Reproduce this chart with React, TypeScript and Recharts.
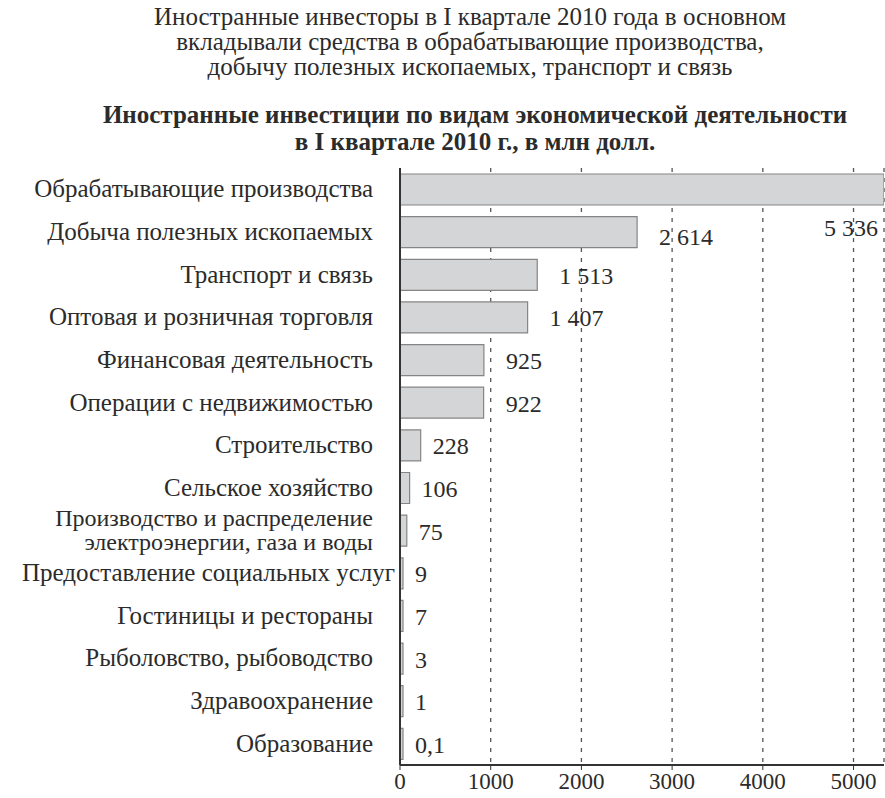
import { BarChart, Bar, XAxis, YAxis, CartesianGrid, LabelList } from 'recharts'

const categories = [
  'Обрабатывающие производства',
  'Добыча полезных ископаемых',
  'Транспорт и связь',
  'Оптовая и розничная торговля',
  'Финансовая деятельность',
  'Операции с недвижимостью',
  'Строительство',
  'Сельское хозяйство',
  'Производство и распределение\nэлектроэнергии, газа и воды',
  'Предоставление социальных услуг',
  'Гостиницы и рестораны',
  'Рыболовство, рыбоводство',
  'Здравоохранение',
  'Образование',
]
const values = [5336, 2614, 1513, 1407, 925, 922, 228, 106, 75, 9, 7, 3, 1, 0.1]
const xTicks = [0, 1000, 2000, 3000, 4000, 5000]

const subtitleLines = [
  'Иностранные инвесторы в I квартале 2010 года в основном',
  'вкладывали средства в обрабатывающие производства,',
  'добычу полезных ископаемых, транспорт и связь',
]
const titleLines = [
  'Иностранные инвестиции по видам экономической деятельности',
  'в I квартале 2010 г., в млн долл.',
]

const data = categories.map((name, i) => ({ name, value: values[i] }))

const FONT = '"Liberation Serif", "DejaVu Serif", serif'
const INK = '#2b2b2b'

function formatValue(v: number): string {
  if (v < 1) return String(v).replace('.', ',')
  return String(v).replace(/\B(?=(\d{3})+(?!\d))/g, ' ')
}

function CategoryTick({ x, y, payload, index }: any) {
  const lines: string[] = String(payload.value).split('\n')
  const multi = lines.length > 1
  const lh = 24
  // the long one sits closer to the axis, like in the source
  const tx = index === 9 ? x + 22 : x
  return (
    <text x={tx} y={y} textAnchor="end" fontFamily={FONT} fontSize={multi ? 24 : 25} fill={INK}>
      {lines.map((l, i) => (
        <tspan key={i} x={tx} dy={i === 0 ? -((lines.length - 1) * lh) / 2 + 8 : lh}>
          {l}
        </tspan>
      ))}
    </text>
  )
}

function ValueLabel({ x, y, width, height, value, index }: any) {
  if (index === 0) {
    return (
      <text x={x + width - 6} y={y + height + 31} textAnchor="end" fontFamily={FONT} fontSize={24} fill={INK}>
        {formatValue(value)}
      </text>
    )
  }
  const gap = value > 500 ? 22 : 12
  const dy = index === 1 ? 13 : 9
  return (
    <text x={x + width + gap} y={y + height / 2 + dy} textAnchor="start" fontFamily={FONT} fontSize={24} fill={INK}>
      {formatValue(value)}
    </text>
  )
}

export default function App() {
  return (
    <div style={{ position: 'absolute', left: 0, top: 0, width: 885, height: 798, background: '#fff', fontFamily: FONT, color: INK }}>
      <div style={{ position: 'absolute', left: 0, top: 4, width: 940, textAlign: 'center', fontSize: 25, lineHeight: '25px' }}>
        {subtitleLines.map((l, i) => <div key={i}>{l}</div>)}
      </div>
      <div style={{ position: 'absolute', left: 0, top: 101, width: 950, textAlign: 'center', fontSize: 25, lineHeight: '27px', fontWeight: 'bold' }}>
        {titleLines.map((l, i) => <div key={i}>{l}</div>)}
      </div>
      <div style={{ position: 'absolute', left: 0, top: 0 }}>
        <BarChart
          width={885}
          height={798}
          data={data}
          layout="vertical"
          margin={{ top: 168, right: 1, bottom: 3, left: 0 }}
        >
          <CartesianGrid horizontal={false} stroke="#555" strokeDasharray="4 6" strokeWidth={1.3} />
          <XAxis
            type="number"
            domain={[0, 5336]}
            ticks={xTicks}
            allowDataOverflow
            height={30}
            axisLine={{ stroke: '#333', strokeWidth: 2 }}
            tickLine={{ stroke: '#333' }}
            tickSize={5}
            tickMargin={1}
            tick={{ fontFamily: FONT, fontSize: 23, fill: INK, dy: 2 }}
          />
          <YAxis
            type="category"
            dataKey="name"
            width={400}
            axisLine={{ stroke: '#333', strokeWidth: 2 }}
            tickLine={false}
            tickMargin={21}
            interval={0}
            tick={<CategoryTick />}
          />
          <Bar
            dataKey="value"
            barSize={31}
            minPointSize={3}
            fill="#d4d5d7"
            stroke="#858585"
            strokeWidth={1.2}
            isAnimationActive={false}
          >
            <LabelList dataKey="value" content={<ValueLabel />} />
          </Bar>
        </BarChart>
      </div>
    </div>
  )
}
